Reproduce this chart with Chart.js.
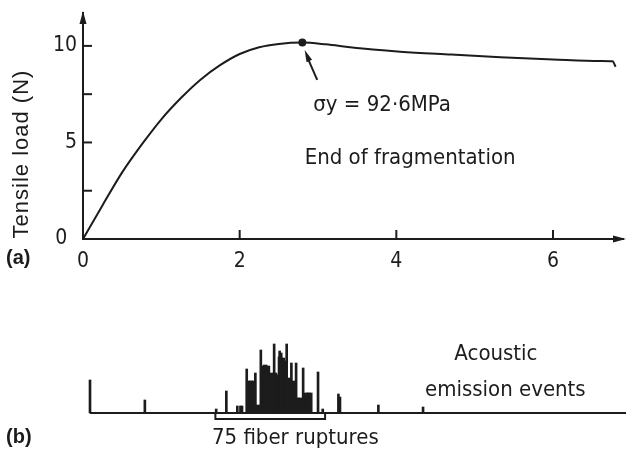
<!DOCTYPE html>
<html>
<head>
<meta charset="utf-8">
<script src="https://cdn.jsdelivr.net/npm/chart.js@4.4.1/dist/chart.umd.min.js"></script>
<style>
  html, body { margin: 0; padding: 0; background: #fff; }
  #wrap { position: relative; width: 626px; height: 455px; overflow: hidden; }
  #wrap canvas { position: absolute; left: 0; }
  #load { top: 0; }
  #ae { top: 300px; }
</style>
</head>
<body>
<div id="wrap">
  <canvas id="load" width="626" height="300"></canvas>
  <canvas id="ae" width="626" height="155"></canvas>
</div>
<script>
// (a) load vs strain curve
const strain = [0, 0.25, 0.5, 0.77, 1.0, 1.25, 1.5, 1.75, 2.0, 2.25, 2.5, 2.8, 3.1, 3.41, 3.7, 4.05, 4.7, 5.33, 6.0, 6.61, 6.76, 6.8];
const load   = [0, 1.75, 3.45, 5.0, 6.2, 7.3, 8.25, 9.0, 9.58, 9.93, 10.1, 10.17, 10.08, 9.93, 9.81, 9.7, 9.55, 9.41, 9.3, 9.22, 9.2, 8.92];
const yieldPoint = { x: 2.8, y: 10.17 };
const xTickLabels = [0, 2, 4, 6];
const yTickLabels = [0, 5, 10];

// (b) acoustic emission events (same strain axis, amplitude in arbitrary units)
const eventX   = [0.09, 0.79, 1.70, 1.83, 1.97, 2.01, 2.03, 2.09, 2.20, 2.27, 2.44, 2.51, 2.53, 2.60, 2.66, 2.72, 2.81, 3.0, 3.06, 3.26, 3.28, 3.77, 4.34];
const eventAmp = [33, 13, 4, 22, 7, 7, 7, 44, 40, 63, 69, 62, 60, 69, 50, 50, 45, 41, 4, 19, 16, 8, 6];
const burstX   = [2.11, 2.145, 2.18, 2.235, 2.29, 2.325, 2.36, 2.40, 2.45, 2.48, 2.515, 2.55, 2.585, 2.625, 2.68, 2.745, 2.77, 2.84, 2.875, 2.9];
const burstAmp = [32, 32, 32, 8, 47, 48, 47, 40, 40, 38, 56, 55, 52, 35, 32, 15, 15, 20, 20, 20];
const ruptureSpan = [1.69, 3.09];

const INK = '#1c1c1c';
const LETTER = '"DejaVu Sans Condensed", "DejaVu Sans", sans-serif';
const PLAIN = '"Liberation Sans", Arial, sans-serif';

function line(ctx, x1, y1, x2, y2) {
  ctx.beginPath(); ctx.moveTo(x1, y1); ctx.lineTo(x2, y2); ctx.stroke();
}

function arrowHead(ctx, tx, ty, fx, fy, len, half) {
  const a = Math.atan2(ty - fy, tx - fx);
  ctx.beginPath();
  ctx.moveTo(tx, ty);
  ctx.lineTo(tx - len * Math.cos(a) + half * Math.sin(a), ty - len * Math.sin(a) - half * Math.cos(a));
  ctx.lineTo(tx - len * Math.cos(a) - half * Math.sin(a), ty - len * Math.sin(a) + half * Math.cos(a));
  ctx.closePath();
  ctx.fill();
}

const loadMarks = {
  id: 'loadMarks',
  afterDraw(chart) {
    const { ctx, scales: { x, y } } = chart;
    ctx.save();
    ctx.strokeStyle = INK; ctx.fillStyle = INK; ctx.lineWidth = 2;

    // inward tick marks
    [2.5, 5, 7.5, 10].forEach(v => line(ctx, x.left, y.getPixelForValue(v), x.left + 9, y.getPixelForValue(v)));
    [2, 4, 6].forEach(v => line(ctx, x.getPixelForValue(v), y.bottom, x.getPixelForValue(v), y.bottom - 9));

    // axis arrows
    line(ctx, x.left, y.top, x.left, y.top - 3);
    arrowHead(ctx, x.left, y.top - 4, x.left, y.top + 10, 13, 3.5);
    line(ctx, x.right, y.bottom, chart.width - 4, y.bottom);
    arrowHead(ctx, chart.width, y.bottom, chart.width - 10, y.bottom, 13, 3.5);

    // arrow pointing at the yield point
    const ax1 = x.getPixelForValue(2.99), ay1 = y.getPixelForValue(8.24);
    const ax2 = x.getPixelForValue(2.83), ay2 = y.getPixelForValue(9.79);
    line(ctx, ax1, ay1, ax2 + 2, ay2 + 6);
    arrowHead(ctx, ax2, ay2, ax1, ay1, 12, 3);

    ctx.font = '22px ' + LETTER;
    ctx.textAlign = 'left'; ctx.textBaseline = 'middle';
    ctx.fillText('\u03c3y = 92\u00b76MPa', x.getPixelForValue(2.94), y.getPixelForValue(6.94));
    ctx.fillText('End of fragmentation', x.getPixelForValue(2.83), y.getPixelForValue(4.19));

    // y axis title, sits a bit below the middle of the axis
    ctx.save();
    ctx.translate(22, y.getPixelForValue(4.4));
    ctx.rotate(-Math.PI / 2);
    ctx.textAlign = 'center';
    ctx.font = '22px ' + PLAIN;
    ctx.letterSpacing = '1px';
    ctx.fillText('Tensile load (N)', 0, 0);
    ctx.restore();

    ctx.font = 'bold 20px ' + PLAIN;
    ctx.fillText('(a)', 6, y.bottom + 19);
    ctx.restore();
  }
};

new Chart(document.getElementById('load'), {
  type: 'line',
  data: {
    datasets: [
      {
        data: strain.map((s, i) => ({ x: s, y: load[i] })),
        borderColor: INK, borderWidth: 2, pointRadius: 0,
        cubicInterpolationMode: 'monotone', fill: false
      },
      {
        data: [yieldPoint],
        showLine: false, pointRadius: 4, pointBackgroundColor: INK, pointBorderWidth: 0
      }
    ]
  },
  options: {
    responsive: false, animation: false, devicePixelRatio: 1,
    layout: { autoPadding: false, padding: { top: 15, right: 2.5, left: 0, bottom: 0 } },
    plugins: { legend: { display: false }, tooltip: { enabled: false } },
    scales: {
      x: {
        type: 'linear', min: 0, max: 6.9,
        afterFit: s => { s.height = 61; s.paddingLeft = 0; s.paddingRight = 0; },
        grid: { display: false, drawTicks: false },
        border: { color: INK, width: 2 },
        ticks: {
          stepSize: 2, autoSkip: false, maxRotation: 0, padding: 10, color: INK,
          font: { family: LETTER, size: 21 },
          callback: v => xTickLabels.includes(v) ? String(v) : ''
        }
      },
      y: {
        min: 0, max: 11.6,
        afterFit: s => { s.width = 83; s.paddingTop = 0; s.paddingBottom = 0; },
        grid: { display: false, drawTicks: false },
        border: { color: INK, width: 2 },
        ticks: {
          stepSize: 2.5, autoSkip: false, padding: 6, color: INK,
          font: { family: LETTER, size: 21 },
          callback: v => yTickLabels.includes(v) ? (v === 0 ? '0 \u2009' : String(v)) : ''
        }
      }
    }
  },
  plugins: [loadMarks]
});

const aeMarks = {
  id: 'aeMarks',
  afterDraw(chart) {
    const { ctx, scales: { x, y } } = chart;
    const y0 = y.getPixelForValue(0);
    ctx.save();
    ctx.strokeStyle = INK; ctx.fillStyle = INK; ctx.lineWidth = 2;
    line(ctx, x.left, y0, chart.width, y0);

    // bracket under the burst
    const l = x.getPixelForValue(ruptureSpan[0]), r = x.getPixelForValue(ruptureSpan[1]);
    ctx.beginPath();
    ctx.moveTo(l, y0); ctx.lineTo(l, y0 + 6); ctx.lineTo(r, y0 + 6); ctx.lineTo(r, y0);
    ctx.stroke();

    ctx.font = '22px ' + LETTER;
    ctx.textAlign = 'center'; ctx.textBaseline = 'middle';
    ctx.fillText('75 fiber ruptures', x.getPixelForValue(2.71), y0 + 25);
    ctx.fillText('Acoustic', x.getPixelForValue(5.27), y.getPixelForValue(59));
    ctx.fillText('emission events', x.getPixelForValue(5.39), y.getPixelForValue(23));

    ctx.textAlign = 'left';
    ctx.font = 'bold 20px ' + PLAIN;
    ctx.fillText('(b)', 6, y0 + 24);
    ctx.restore();
  }
};

new Chart(document.getElementById('ae'), {
  type: 'bar',
  data: {
    datasets: [
      {
        data: eventX.map((s, i) => ({ x: s, y: eventAmp[i] })),
        backgroundColor: INK, barThickness: 2, grouped: false, clip: false
      },
      {
        data: burstX.map((s, i) => ({ x: s, y: burstAmp[i] })),
        backgroundColor: INK, barThickness: 4, grouped: false, clip: false
      }
    ]
  },
  options: {
    responsive: false, animation: false, devicePixelRatio: 1,
    layout: { autoPadding: false, padding: { left: 90, right: 0, top: 33, bottom: 42 } },
    plugins: { legend: { display: false }, tooltip: { enabled: false } },
    scales: {
      x: { type: 'linear', min: 0.09, max: 6.93, offset: false, display: false },
      y: { min: 0, max: 80, display: false }
    }
  },
  plugins: [aeMarks]
});
</script>
</body>
</html>
